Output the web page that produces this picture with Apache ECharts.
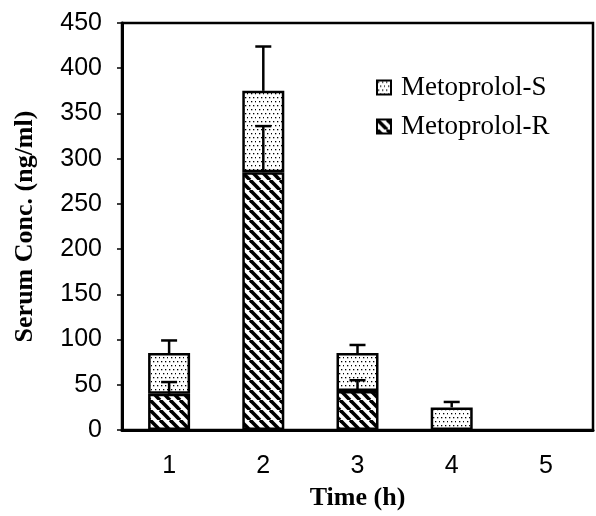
<!DOCTYPE html>
<html>
<head>
<meta charset="utf-8">
<script src="https://cdn.jsdelivr.net/npm/echarts@6/dist/echarts.min.js"></script>
<style>
  html, body { margin: 0; padding: 0; background: #fff; }
  #chart { width: 596px; height: 516px; }
</style>
</head>
<body>
<div id="chart"></div>
<script>
// data
var times = ['1', '2', '3', '4', '5'];
var valR = [40, 285, 43, null, null];
var errR = [13, 51, 12, null, null];
var valS = [45, 90, 42, 25, null];
var errS = [14, 49, 9, 6, null];
var yTicks = [0, 50, 100, 150, 200, 250, 300, 350, 400, 450];

// fill patterns
function dotPattern() {
    var c = document.createElement('canvas');
    c.width = 8; c.height = 8;
    var g = c.getContext('2d');
    g.fillStyle = '#fff';
    g.fillRect(0, 0, 8, 8);
    g.fillStyle = '#000';
    g.fillRect(1, 1, 1.3, 1.3);
    g.fillRect(5, 1, 1.3, 1.3);
    g.fillRect(3, 5, 1.3, 1.3);
    g.fillRect(7, 5, 1.3, 1.3);
    return c;
}
function hatchPattern() {
    var s = 10;
    var c = document.createElement('canvas');
    c.width = s; c.height = s;
    var g = c.getContext('2d');
    g.fillStyle = '#fff';
    g.fillRect(0, 0, s, s);
    g.strokeStyle = '#000';
    g.lineWidth = 3.6;
    for (var k = -1; k <= 1; k++) {
        g.beginPath();
        g.moveTo(k * s, 0);
        g.lineTo(k * s + s, s);
        g.stroke();
    }
    return c;
}
var dots = {image: dotPattern(), repeat: 'repeat'};
var hatch = {image: hatchPattern(), repeat: 'repeat'};

// error bar data: [index, base, top]
var errDataR = [], errDataS = [];
for (var i = 0; i < times.length; i++) {
    if (valR[i] != null && errR[i] != null) {
        errDataR.push([i, valR[i], valR[i] + errR[i]]);
    }
    if (valS[i] != null && errS[i] != null) {
        var tot = (valR[i] || 0) + valS[i];
        errDataS.push([i, tot, tot + errS[i]]);
    }
}

function renderErr(params, api) {
    var x = api.value(0);
    var p0 = api.coord([x, api.value(1)]);
    var p1 = api.coord([x, api.value(2)]);
    var hw = 8;
    var st = {stroke: '#000', lineWidth: 2.5};
    return {
        type: 'group',
        children: [
            {type: 'line', shape: {x1: p0[0], y1: p0[1], x2: p1[0], y2: p1[1]}, style: st},
            {type: 'line', shape: {x1: p1[0] - hw, y1: p1[1], x2: p1[0] + hw, y2: p1[1]}, style: st}
        ]
    };
}

var chart = echarts.init(document.getElementById('chart'));
chart.setOption({
    animation: false,
    grid: {
        left: 122, top: 23, right: 3, bottom: 84,
        show: true, borderColor: '#000', borderWidth: 2.5,
        containLabel: false
    },
    legend: {
        data: ['Metoprolol-S', 'Metoprolol-R'],
        orient: 'vertical',
        left: 371, top: 69,
        itemWidth: 14, itemHeight: 14,
        itemGap: 12,
        icon: 'rect',
        itemStyle: {borderColor: '#000', borderWidth: 2},
        textStyle: {fontFamily: 'Liberation Serif', fontSize: 27, color: '#000', padding: [0, 0, 0, 5]}
    },
    xAxis: {
        type: 'category',
        data: times,
        name: 'Time (h)',
        nameLocation: 'middle',
        nameGap: 55,
        nameTextStyle: {fontFamily: 'Liberation Serif', fontWeight: 'bold', fontSize: 26, color: '#000'},
        axisLine: {lineStyle: {color: '#000', width: 3}},
        axisTick: {length: 6, lineStyle: {color: '#000', width: 1.5}},
        axisLabel: {margin: 24, fontFamily: 'Liberation Sans', fontSize: 25, color: '#000'}
    },
    yAxis: {
        type: 'value',
        min: yTicks[0],
        max: yTicks[yTicks.length - 1],
        interval: 50,
        name: 'Serum Conc. (ng/ml)',
        nameLocation: 'middle',
        nameGap: 84,
        nameTextStyle: {fontFamily: 'Liberation Serif', fontWeight: 'bold', fontSize: 26, color: '#000'},
        axisLine: {show: true, lineStyle: {color: '#000', width: 3}},
        axisTick: {show: true, length: 5, lineStyle: {color: '#000', width: 1.5}},
        axisLabel: {margin: 20, fontFamily: 'Liberation Sans', fontSize: 25, color: '#000'},
        splitLine: {show: false}
    },
    series: [
        {
            name: 'Metoprolol-R', type: 'bar', stack: 'conc', barWidth: 42,
            itemStyle: {color: hatch, borderColor: '#000', borderWidth: 2.5},
            data: valR
        },
        {
            name: 'Metoprolol-S', type: 'bar', stack: 'conc', barWidth: 42,
            itemStyle: {color: dots, borderColor: '#000', borderWidth: 2.5},
            data: valS
        },
        {
            type: 'custom', renderItem: renderErr, z: 10,
            encode: {x: 0, y: [1, 2]},
            data: errDataR
        },
        {
            type: 'custom', renderItem: renderErr, z: 10,
            encode: {x: 0, y: [1, 2]},
            data: errDataS
        }
    ]
});
</script>
</body>
</html>
